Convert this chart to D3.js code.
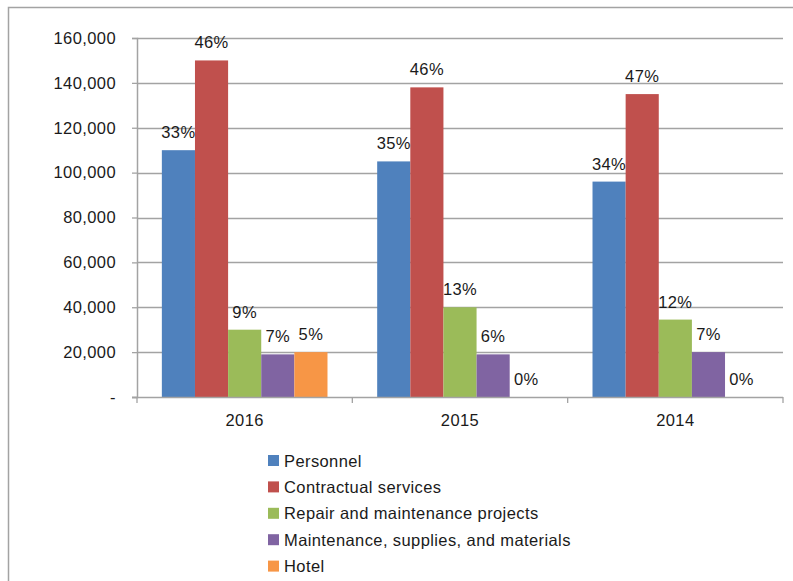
<!DOCTYPE html>
<html>
<head>
<meta charset="utf-8">
<script src="https://cdn.jsdelivr.net/npm/d3@7"></script>
<style>
  html, body { margin: 0; padding: 0; background: #fff; }
  svg text { font-family: "Liberation Sans", Arial, sans-serif; font-size: 16.5px; letter-spacing: 0.4px; fill: #1a1a1a; }
</style>
</head>
<body>
<svg id="chart" width="793" height="581"></svg>
<script>
const years = ["2016", "2015", "2014"];
const seriesNames = ["Personnel", "Contractual services", "Repair and maintenance projects", "Maintenance, supplies, and materials", "Hotel"];
const seriesColors = ["#4F81BD", "#C0504D", "#9BBB59", "#8064A2", "#F79646"];
const personnel = [110000, 105000, 96000];
const contractual = [150000, 138000, 135000];
const repair = [30000, 40000, 34500];
const supplies = [19000, 19000, 20000];
const hotel = [20000, 0, 0];
const personnelPct = ["33%", "35%", "34%"];
const contractualPct = ["46%", "46%", "47%"];
const repairPct = ["9%", "13%", "12%"];
const suppliesPct = ["7%", "6%", "7%"];
const hotelPct = ["5%", "0%", "0%"];
const yTicks = [0, 20000, 40000, 60000, 80000, 100000, 120000, 140000, 160000];

const values = [personnel, contractual, repair, supplies, hotel];
const pcts = [personnelPct, contractualPct, repairPct, suppliesPct, hotelPct];

const svg = d3.select("#chart");
const mLeft = 137, mRight = 783, mTop = 38, mBottom = 397;
const gray = "#a3a3a3";

// outer border (top + left)
svg.append("path").attr("d", "M8.5,581 L8.5,7.5 L793,7.5")
  .attr("fill", "none").attr("stroke", gray).attr("stroke-width", 1.5);

const y = d3.scaleLinear().domain([0, 160000]).range([mBottom, mTop]);
const x0 = d3.scaleBand().domain(years).range([mLeft, mRight]).padding(0);
const x1 = d3.scaleBand().domain(d3.range(seriesNames.length)).range([0, x0.bandwidth()])
  .paddingInner(0).paddingOuter(0.75);

// gridlines
svg.append("g").selectAll("line").data(yTicks.filter(d => d > 0)).join("line")
  .attr("x1", mLeft).attr("x2", mRight)
  .attr("y1", d => Math.round(y(d)) + 0.5).attr("y2", d => Math.round(y(d)) + 0.5)
  .attr("stroke", gray).attr("stroke-width", 1.3);

// y axis
const yAxis = d3.axisLeft(y).tickValues(yTicks).tickSize(5).tickPadding(16)
  .tickFormat(d => d === 0 ? "-" : d3.format(",")(d));
const gy = svg.append("g").attr("transform", `translate(${mLeft},0)`).call(yAxis);
gy.select(".domain").attr("stroke", gray).attr("stroke-width", 1.5);
gy.selectAll(".tick line").attr("stroke", gray).attr("stroke-width", 1.3);
gy.selectAll(".tick text").attr("font-family", null).attr("font-size", null).attr("fill", "#1a1a1a");

// bars
values.forEach((arr, si) => {
  const g = svg.append("g");
  g.selectAll("rect").data(arr).join("rect")
    .attr("x", (d, i) => x0(years[i]) + x1(si))
    .attr("width", x1.bandwidth())
    .attr("y", d => y(d))
    .attr("height", d => mBottom - y(d))
    .attr("fill", seriesColors[si]);
});

// x axis
const xAxis = d3.axisBottom(x0).tickSize(0).tickPadding(17);
const gx = svg.append("g").attr("transform", `translate(0,${mBottom})`).call(xAxis);
gx.select(".domain").remove();
gx.selectAll(".tick text").attr("font-family", null).attr("font-size", null).attr("fill", "#1a1a1a");
svg.append("line").attr("x1", mLeft - 5).attr("x2", mRight).attr("y1", mBottom + 0.5).attr("y2", mBottom + 0.5)
  .attr("stroke", gray).attr("stroke-width", 1.5);
// category boundary ticks
svg.append("g").selectAll("line").data([0, 1, 2, 3]).join("line")
  .attr("x1", i => mLeft + i * x0.step()).attr("x2", i => mLeft + i * x0.step())
  .attr("y1", mBottom).attr("y2", mBottom + 6)
  .attr("stroke", gray).attr("stroke-width", 1.3);

// data labels
values.forEach((arr, si) => {
  svg.append("g").selectAll("text").data(arr).join("text")
    .attr("x", (d, i) => x0(years[i]) + x1(si) + x1.bandwidth() / 2)
    .attr("y", d => y(d) - 12)
    .attr("text-anchor", "middle")
    .text((d, i) => pcts[si][i]);
});

// legend
const lg = svg.append("g").attr("transform", "translate(268,455)");
seriesNames.forEach((name, i) => {
  const row = lg.append("g").attr("transform", `translate(0,${i * 26.4})`);
  row.append("rect").attr("width", 11).attr("height", 11).attr("fill", seriesColors[i]);
  row.append("text").attr("x", 16).attr("y", 11.5).text(name);
});
</script>
</body>
</html>
